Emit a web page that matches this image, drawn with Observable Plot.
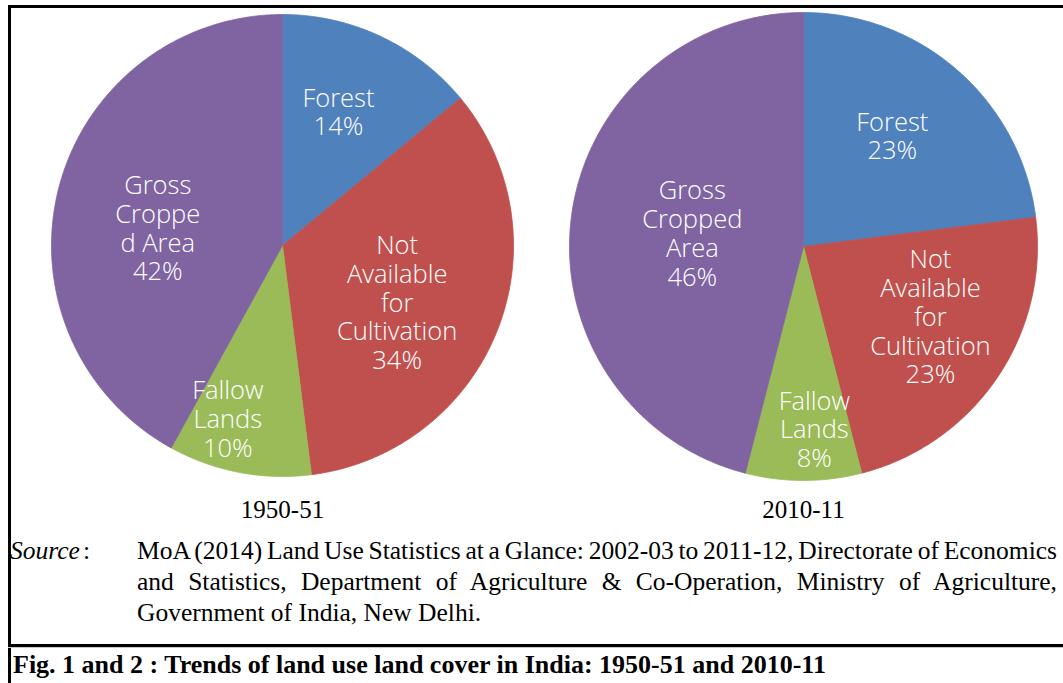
<!DOCTYPE html>
<html>
<head>
<meta charset="utf-8">
<script src="https://cdn.jsdelivr.net/npm/d3@7"></script>
<script src="https://cdn.jsdelivr.net/npm/@observablehq/plot@0.6"></script>
<style>
  html, body { margin: 0; padding: 0; background: #fff; }
  #page { position: relative; width: 1063px; height: 683px; overflow: hidden; background: #fff; }
  #chart { position: absolute; left: 0; top: 0; }
  .rule { position: absolute; background: #000; }
  .serif { font-family: "Liberation Serif", "Times New Roman", serif; color: #000; }
  #source-tag { position: absolute; left: 10px; top: 535px; font-size: 25.5px; line-height: 31px; font-style: italic; }
  #source-tag span { font-style: normal; margin-left: 3px; }
  #source { position: absolute; left: 137px; top: 535px; font-size: 25.5px; line-height: 31px; }
  #source .line { white-space: nowrap; display: block; }
  #source .line span { white-space: nowrap; }
  #caption { position: absolute; left: 13px; top: 649px; font-size: 26px; line-height: 31px; font-weight: bold; white-space: nowrap; }
</style>
</head>
<body>
<div id="page">
  <div id="chart"></div>
  <div class="rule" style="left:8px; top:5px; width:1060px; height:3px;"></div>
  <div class="rule" style="left:8px; top:5px; width:3px; height:690px;"></div>
  <div class="rule" style="left:8px; top:644px; width:1060px; height:3px;"></div>
  <div class="rule" style="left:8px; top:647px; width:1060px; height:1px; background:#c8c8c8;"></div>
  <div id="source-tag" class="serif">Source<span>:</span></div>
  <div id="source" class="serif"></div>
  <div id="caption" class="serif"></div>
</div>
<script>
// Land use categories, in the order the slices run clockwise from 12 o'clock
const categories = ["Forest", "Not Available for Cultivation", "Fallow Lands", "Gross Cropped Area"];
const years = ["1950-51", "2010-11"];
// Share of reporting area, per cent
const share1950 = [14, 34, 10, 42];
const share2010 = [23, 23, 8, 46];
// Slice label wording, broken into lines as printed inside each pie
const labelLines1950 = ["Forest", "Not\nAvailable\nfor\nCultivation", "Fallow\nLands", "Gross\nCroppe\nd Area"];
const labelLines2010 = ["Forest", "Not\nAvailable\nfor\nCultivation", "Fallow\nLands", "Gross\nCropped\nArea"];
const sliceColors = ["#4F81BD", "#C0504D", "#9BBB59", "#8064A2"];

const sourceLines = [
  "MoA (2014) Land Use Statistics at a Glance: 2002-03 to 2011-12, Directorate of Economics",
  "and Statistics, Department of Agriculture & Co-Operation, Ministry of Agriculture,",
  "Government of India, New Delhi."
];
const captionText = "Fig. 1 and 2 : Trends of land use land cover in India: 1950-51 and 2010-11";

// Layout: pie centres and radii in chart pixels, plus where each slice label sits
// (angle clockwise from 12 o'clock in degrees, distance from the centre in pixels)
const W = 1063, H = 530;
const pieLayout = [
  {cx: 282, cy: 245, r: 231, labels: [[22.7, 145], [116.4, 128], [197.5, 182], [278, 126]]},
  {cx: 803, cy: 246, r: 234, labels: [[38.7, 142], [118.9, 145], [176.6, 183], [276.7, 112]]}
];
const yearLabelY = 509;
const sourceWidth = 920; // justified width of the source note

const shares = [share1950, share2010];
const labelLines = [labelLines1950, labelLines2010];

const pie = d3.pie().sort(null).value(d => d.value);
const toRad = Math.PI / 180;

const slicePoints = [];
const sliceLabels = [];
years.forEach((year, p) => {
  const {cx, cy, r, labels} = pieLayout[p];
  const rows = categories.map((category, i) => ({category, value: shares[p][i], i}));
  pie(rows).forEach(a => {
    const key = `${year}-${a.data.category}`;
    const steps = Math.max(8, Math.ceil((a.endAngle - a.startAngle) / (0.5 * toRad)));
    slicePoints.push({key, category: a.data.category, x: cx, y: cy});
    for (let s = 0; s <= steps; ++s) {
      const t = a.startAngle + (a.endAngle - a.startAngle) * s / steps;
      slicePoints.push({key, category: a.data.category, x: cx + r * Math.sin(t), y: cy - r * Math.cos(t)});
    }
    slicePoints.push({key, category: a.data.category, x: cx, y: cy});
    const [deg, dist] = labels[a.data.i];
    sliceLabels.push({
      year,
      x: cx + dist * Math.sin(deg * toRad),
      y: cy - dist * Math.cos(deg * toRad),
      text: `${labelLines[p][a.data.i]}\n${a.data.value}%`
    });
  });
});

const yearRows = years.map((year, p) => ({year, x: pieLayout[p].cx, y: yearLabelY}));

const chart = Plot.plot({
  width: W,
  height: H,
  margin: 0,
  x: {domain: [0, W], range: [0, W], axis: null},
  y: {domain: [0, H], range: [0, H], axis: null},
  color: {domain: categories, range: sliceColors},
  style: {background: "transparent", overflow: "visible"},
  marks: [
    Plot.line(slicePoints, {x: "x", y: "y", z: "key", fill: "category", stroke: "category", strokeWidth: 0.8}),
    Plot.text(sliceLabels, {
      x: "x", y: "y", text: "text",
      fill: "white", fontSize: 25.5, lineHeight: 1.13,
      fontFamily: "'Open Sans', Lato, sans-serif", fontWeight: 300
    }),
    Plot.text(yearRows, {
      x: "x", y: "y", text: "year",
      fill: "black", fontSize: 25,
      fontFamily: "'Liberation Serif', 'Times New Roman', serif"
    })
  ]
});
document.getElementById("chart").appendChild(chart);

// Source note: every line but the last is justified to the full width by adjusting word spacing
const src = document.getElementById("source");
sourceLines.forEach((t, i) => {
  const d = document.createElement("div");
  d.className = "line";
  const s = document.createElement("span");
  s.textContent = t;
  d.appendChild(s);
  src.appendChild(d);
  if (i < sourceLines.length - 1) {
    const natural = s.getBoundingClientRect().width;
    const gaps = (t.match(/ /g) || []).length;
    s.style.wordSpacing = ((sourceWidth - natural) / gaps) + "px";
  }
});
document.getElementById("caption").textContent = captionText;
</script>
</body>
</html>
